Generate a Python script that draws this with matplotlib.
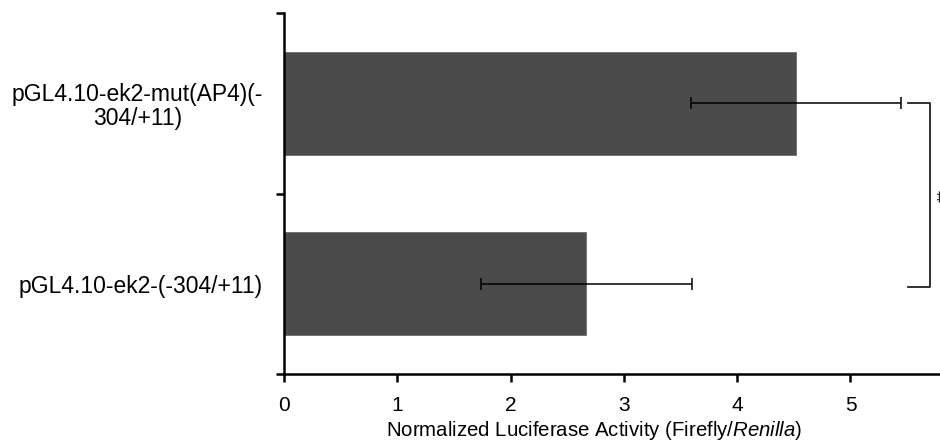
import matplotlib.pyplot as plt

plt.rcParams['font.family'] = ['Liberation Sans', 'DejaVu Sans']
plt.rcParams['mathtext.fontset'] = 'custom'
plt.rcParams['mathtext.rm'] = 'Liberation Sans'
plt.rcParams['mathtext.it'] = 'Liberation Sans:italic'

# data
labels = ["pGL4.10-ek2-(-304/+11)", "pGL4.10-ek2-mut(AP4)(-\n304/+11)"]
activity = [2.67, 4.52]
sem = [0.93, 0.93]
ypos = [0.5, 1.5]

fig = plt.figure(figsize=(9.4, 4.46), dpi=100)
ax = fig.add_axes([0.302, 0.161, 0.698, 0.81])

ax.barh(ypos, activity, height=0.57, color='#4b4b4b', edgecolor='#6a6a6a', linewidth=0.6,
        xerr=sem, error_kw=dict(ecolor='black', elinewidth=1.1, capsize=4.5, capthick=1.1))

ax.set_xlim(0, 5.79)
ax.set_ylim(0, 2)
ax.set_xticks([0, 1, 2, 3, 4, 5])
ax.set_yticks([0, 1, 2])
ax.set_yticklabels([])
ax.set_yticks(ypos, minor=True)
ax.set_yticklabels(labels, minor=True, multialignment='center', fontsize=16.5, linespacing=1.05)
ax.tick_params(axis='y', which='minor', length=0, pad=15)
ax.tick_params(axis='both', which='major', direction='out', length=6, width=1.8, labelsize=15)
ax.tick_params(axis='x', pad=10)

for side in ['top', 'right']:
    ax.spines[side].set_visible(False)
for side in ['left', 'bottom']:
    ax.spines[side].set_linewidth(1.8)

ax.set_xlabel('Normalized Luciferase Activity (Firefly/$\\mathit{Renilla}$)', fontsize=14.7, labelpad=2)
ax.xaxis.set_label_coords(0.473, -0.125)

# significance bracket
ax.plot([5.51, 5.70, 5.70, 5.51], [1.5, 1.5, 0.48, 0.48], color='#222222', lw=1.3, clip_on=False)
ax.text(5.765, 0.99, '**', fontsize=12, rotation=90, ha='left', va='center', clip_on=False)

plt.savefig("out.png", dpi=100)
